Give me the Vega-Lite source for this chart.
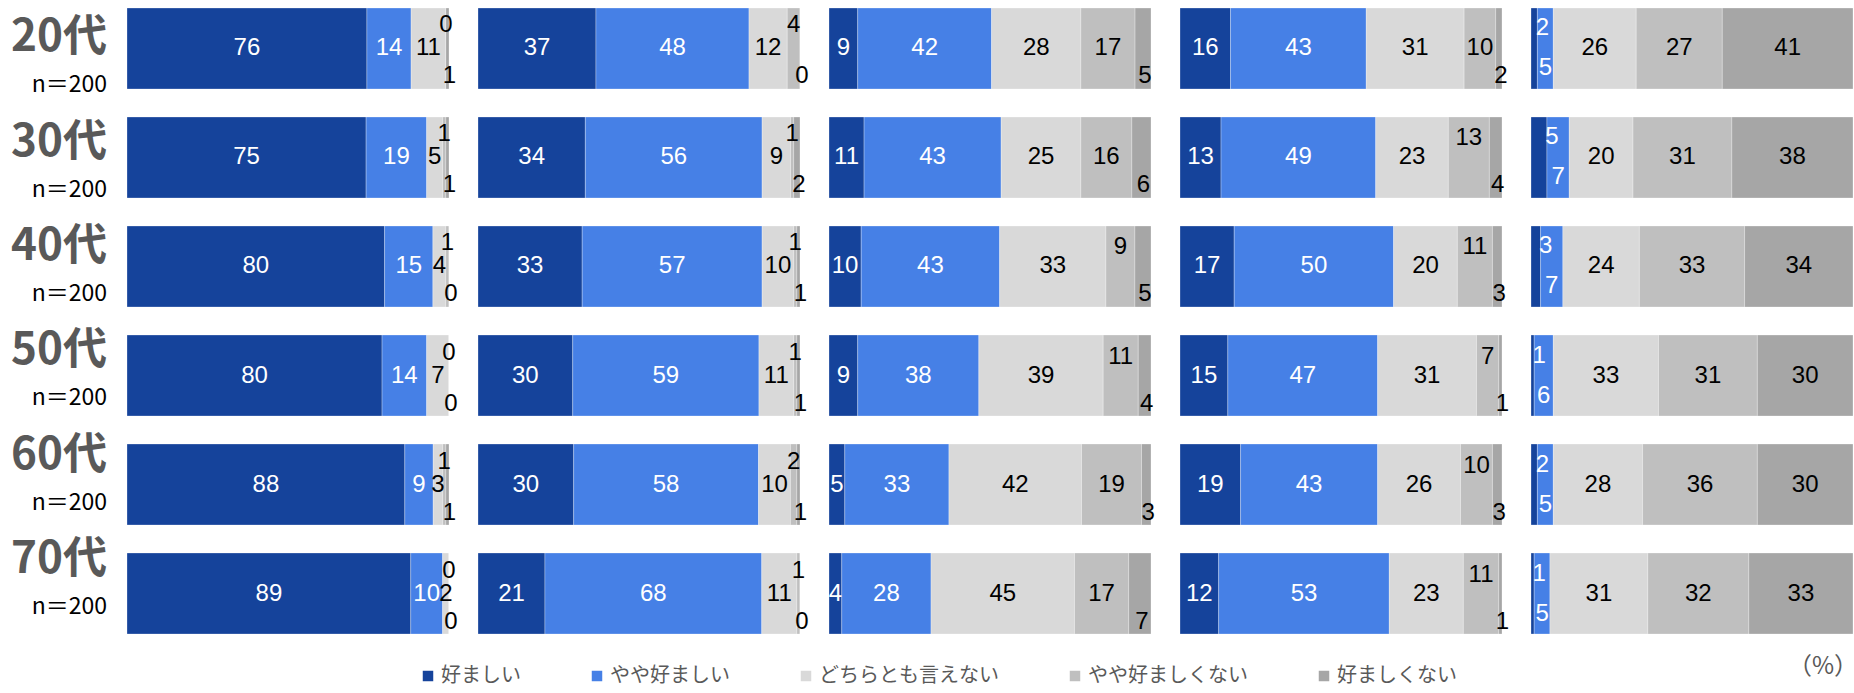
{
  "$schema": "https://vega.github.io/schema/vega-lite/v6.json",
  "padding": {"left": 0, "top": 7, "right": 0, "bottom": 12},
  "background": "white",
  "datasets": {
    "rows": [
      {"age": "20代", "n": "n＝200"},
      {"age": "30代", "n": "n＝200"},
      {"age": "40代", "n": "n＝200"},
      {"age": "50代", "n": "n＝200"},
      {"age": "60代", "n": "n＝200"},
      {"age": "70代", "n": "n＝200"}
    ],
    "main": [
      {"q": "Q1", "age": "20代", "k": 1, "cat": "好ましい", "value": 76},
      {"q": "Q1", "age": "20代", "k": 2, "cat": "やや好ましい", "value": 14},
      {"q": "Q1", "age": "20代", "k": 3, "cat": "どちらとも言えない", "value": 11},
      {"q": "Q1", "age": "20代", "k": 4, "cat": "やや好ましくない", "value": 0},
      {"q": "Q1", "age": "20代", "k": 5, "cat": "好ましくない", "value": 1},
      {"q": "Q1", "age": "30代", "k": 1, "cat": "好ましい", "value": 75},
      {"q": "Q1", "age": "30代", "k": 2, "cat": "やや好ましい", "value": 19},
      {"q": "Q1", "age": "30代", "k": 3, "cat": "どちらとも言えない", "value": 5},
      {"q": "Q1", "age": "30代", "k": 4, "cat": "やや好ましくない", "value": 1},
      {"q": "Q1", "age": "30代", "k": 5, "cat": "好ましくない", "value": 1},
      {"q": "Q1", "age": "40代", "k": 1, "cat": "好ましい", "value": 80},
      {"q": "Q1", "age": "40代", "k": 2, "cat": "やや好ましい", "value": 15},
      {"q": "Q1", "age": "40代", "k": 3, "cat": "どちらとも言えない", "value": 4},
      {"q": "Q1", "age": "40代", "k": 4, "cat": "やや好ましくない", "value": 1},
      {"q": "Q1", "age": "40代", "k": 5, "cat": "好ましくない", "value": 0},
      {"q": "Q1", "age": "50代", "k": 1, "cat": "好ましい", "value": 80},
      {"q": "Q1", "age": "50代", "k": 2, "cat": "やや好ましい", "value": 14},
      {"q": "Q1", "age": "50代", "k": 3, "cat": "どちらとも言えない", "value": 7},
      {"q": "Q1", "age": "50代", "k": 4, "cat": "やや好ましくない", "value": 0},
      {"q": "Q1", "age": "50代", "k": 5, "cat": "好ましくない", "value": 0},
      {"q": "Q1", "age": "60代", "k": 1, "cat": "好ましい", "value": 88},
      {"q": "Q1", "age": "60代", "k": 2, "cat": "やや好ましい", "value": 9},
      {"q": "Q1", "age": "60代", "k": 3, "cat": "どちらとも言えない", "value": 3},
      {"q": "Q1", "age": "60代", "k": 4, "cat": "やや好ましくない", "value": 1},
      {"q": "Q1", "age": "60代", "k": 5, "cat": "好ましくない", "value": 1},
      {"q": "Q1", "age": "70代", "k": 1, "cat": "好ましい", "value": 89},
      {"q": "Q1", "age": "70代", "k": 2, "cat": "やや好ましい", "value": 10},
      {"q": "Q1", "age": "70代", "k": 3, "cat": "どちらとも言えない", "value": 2},
      {"q": "Q1", "age": "70代", "k": 4, "cat": "やや好ましくない", "value": 0},
      {"q": "Q1", "age": "70代", "k": 5, "cat": "好ましくない", "value": 0},

      {"q": "Q2", "age": "20代", "k": 1, "cat": "好ましい", "value": 37},
      {"q": "Q2", "age": "20代", "k": 2, "cat": "やや好ましい", "value": 48},
      {"q": "Q2", "age": "20代", "k": 3, "cat": "どちらとも言えない", "value": 12},
      {"q": "Q2", "age": "20代", "k": 4, "cat": "やや好ましくない", "value": 4},
      {"q": "Q2", "age": "20代", "k": 5, "cat": "好ましくない", "value": 0},
      {"q": "Q2", "age": "30代", "k": 1, "cat": "好ましい", "value": 34},
      {"q": "Q2", "age": "30代", "k": 2, "cat": "やや好ましい", "value": 56},
      {"q": "Q2", "age": "30代", "k": 3, "cat": "どちらとも言えない", "value": 9},
      {"q": "Q2", "age": "30代", "k": 4, "cat": "やや好ましくない", "value": 1},
      {"q": "Q2", "age": "30代", "k": 5, "cat": "好ましくない", "value": 2},
      {"q": "Q2", "age": "40代", "k": 1, "cat": "好ましい", "value": 33},
      {"q": "Q2", "age": "40代", "k": 2, "cat": "やや好ましい", "value": 57},
      {"q": "Q2", "age": "40代", "k": 3, "cat": "どちらとも言えない", "value": 10},
      {"q": "Q2", "age": "40代", "k": 4, "cat": "やや好ましくない", "value": 1},
      {"q": "Q2", "age": "40代", "k": 5, "cat": "好ましくない", "value": 1},
      {"q": "Q2", "age": "50代", "k": 1, "cat": "好ましい", "value": 30},
      {"q": "Q2", "age": "50代", "k": 2, "cat": "やや好ましい", "value": 59},
      {"q": "Q2", "age": "50代", "k": 3, "cat": "どちらとも言えない", "value": 11},
      {"q": "Q2", "age": "50代", "k": 4, "cat": "やや好ましくない", "value": 1},
      {"q": "Q2", "age": "50代", "k": 5, "cat": "好ましくない", "value": 1},
      {"q": "Q2", "age": "60代", "k": 1, "cat": "好ましい", "value": 30},
      {"q": "Q2", "age": "60代", "k": 2, "cat": "やや好ましい", "value": 58},
      {"q": "Q2", "age": "60代", "k": 3, "cat": "どちらとも言えない", "value": 10},
      {"q": "Q2", "age": "60代", "k": 4, "cat": "やや好ましくない", "value": 2},
      {"q": "Q2", "age": "60代", "k": 5, "cat": "好ましくない", "value": 1},
      {"q": "Q2", "age": "70代", "k": 1, "cat": "好ましい", "value": 21},
      {"q": "Q2", "age": "70代", "k": 2, "cat": "やや好ましい", "value": 68},
      {"q": "Q2", "age": "70代", "k": 3, "cat": "どちらとも言えない", "value": 11},
      {"q": "Q2", "age": "70代", "k": 4, "cat": "やや好ましくない", "value": 1},
      {"q": "Q2", "age": "70代", "k": 5, "cat": "好ましくない", "value": 0},

      {"q": "Q3", "age": "20代", "k": 1, "cat": "好ましい", "value": 9},
      {"q": "Q3", "age": "20代", "k": 2, "cat": "やや好ましい", "value": 42},
      {"q": "Q3", "age": "20代", "k": 3, "cat": "どちらとも言えない", "value": 28},
      {"q": "Q3", "age": "20代", "k": 4, "cat": "やや好ましくない", "value": 17},
      {"q": "Q3", "age": "20代", "k": 5, "cat": "好ましくない", "value": 5},
      {"q": "Q3", "age": "30代", "k": 1, "cat": "好ましい", "value": 11},
      {"q": "Q3", "age": "30代", "k": 2, "cat": "やや好ましい", "value": 43},
      {"q": "Q3", "age": "30代", "k": 3, "cat": "どちらとも言えない", "value": 25},
      {"q": "Q3", "age": "30代", "k": 4, "cat": "やや好ましくない", "value": 16},
      {"q": "Q3", "age": "30代", "k": 5, "cat": "好ましくない", "value": 6},
      {"q": "Q3", "age": "40代", "k": 1, "cat": "好ましい", "value": 10},
      {"q": "Q3", "age": "40代", "k": 2, "cat": "やや好ましい", "value": 43},
      {"q": "Q3", "age": "40代", "k": 3, "cat": "どちらとも言えない", "value": 33},
      {"q": "Q3", "age": "40代", "k": 4, "cat": "やや好ましくない", "value": 9},
      {"q": "Q3", "age": "40代", "k": 5, "cat": "好ましくない", "value": 5},
      {"q": "Q3", "age": "50代", "k": 1, "cat": "好ましい", "value": 9},
      {"q": "Q3", "age": "50代", "k": 2, "cat": "やや好ましい", "value": 38},
      {"q": "Q3", "age": "50代", "k": 3, "cat": "どちらとも言えない", "value": 39},
      {"q": "Q3", "age": "50代", "k": 4, "cat": "やや好ましくない", "value": 11},
      {"q": "Q3", "age": "50代", "k": 5, "cat": "好ましくない", "value": 4},
      {"q": "Q3", "age": "60代", "k": 1, "cat": "好ましい", "value": 5},
      {"q": "Q3", "age": "60代", "k": 2, "cat": "やや好ましい", "value": 33},
      {"q": "Q3", "age": "60代", "k": 3, "cat": "どちらとも言えない", "value": 42},
      {"q": "Q3", "age": "60代", "k": 4, "cat": "やや好ましくない", "value": 19},
      {"q": "Q3", "age": "60代", "k": 5, "cat": "好ましくない", "value": 3},
      {"q": "Q3", "age": "70代", "k": 1, "cat": "好ましい", "value": 4},
      {"q": "Q3", "age": "70代", "k": 2, "cat": "やや好ましい", "value": 28},
      {"q": "Q3", "age": "70代", "k": 3, "cat": "どちらとも言えない", "value": 45},
      {"q": "Q3", "age": "70代", "k": 4, "cat": "やや好ましくない", "value": 17},
      {"q": "Q3", "age": "70代", "k": 5, "cat": "好ましくない", "value": 7},

      {"q": "Q4", "age": "20代", "k": 1, "cat": "好ましい", "value": 16},
      {"q": "Q4", "age": "20代", "k": 2, "cat": "やや好ましい", "value": 43},
      {"q": "Q4", "age": "20代", "k": 3, "cat": "どちらとも言えない", "value": 31},
      {"q": "Q4", "age": "20代", "k": 4, "cat": "やや好ましくない", "value": 10},
      {"q": "Q4", "age": "20代", "k": 5, "cat": "好ましくない", "value": 2},
      {"q": "Q4", "age": "30代", "k": 1, "cat": "好ましい", "value": 13},
      {"q": "Q4", "age": "30代", "k": 2, "cat": "やや好ましい", "value": 49},
      {"q": "Q4", "age": "30代", "k": 3, "cat": "どちらとも言えない", "value": 23},
      {"q": "Q4", "age": "30代", "k": 4, "cat": "やや好ましくない", "value": 13},
      {"q": "Q4", "age": "30代", "k": 5, "cat": "好ましくない", "value": 4},
      {"q": "Q4", "age": "40代", "k": 1, "cat": "好ましい", "value": 17},
      {"q": "Q4", "age": "40代", "k": 2, "cat": "やや好ましい", "value": 50},
      {"q": "Q4", "age": "40代", "k": 3, "cat": "どちらとも言えない", "value": 20},
      {"q": "Q4", "age": "40代", "k": 4, "cat": "やや好ましくない", "value": 11},
      {"q": "Q4", "age": "40代", "k": 5, "cat": "好ましくない", "value": 3},
      {"q": "Q4", "age": "50代", "k": 1, "cat": "好ましい", "value": 15},
      {"q": "Q4", "age": "50代", "k": 2, "cat": "やや好ましい", "value": 47},
      {"q": "Q4", "age": "50代", "k": 3, "cat": "どちらとも言えない", "value": 31},
      {"q": "Q4", "age": "50代", "k": 4, "cat": "やや好ましくない", "value": 7},
      {"q": "Q4", "age": "50代", "k": 5, "cat": "好ましくない", "value": 1},
      {"q": "Q4", "age": "60代", "k": 1, "cat": "好ましい", "value": 19},
      {"q": "Q4", "age": "60代", "k": 2, "cat": "やや好ましい", "value": 43},
      {"q": "Q4", "age": "60代", "k": 3, "cat": "どちらとも言えない", "value": 26},
      {"q": "Q4", "age": "60代", "k": 4, "cat": "やや好ましくない", "value": 10},
      {"q": "Q4", "age": "60代", "k": 5, "cat": "好ましくない", "value": 3},
      {"q": "Q4", "age": "70代", "k": 1, "cat": "好ましい", "value": 12},
      {"q": "Q4", "age": "70代", "k": 2, "cat": "やや好ましい", "value": 53},
      {"q": "Q4", "age": "70代", "k": 3, "cat": "どちらとも言えない", "value": 23},
      {"q": "Q4", "age": "70代", "k": 4, "cat": "やや好ましくない", "value": 11},
      {"q": "Q4", "age": "70代", "k": 5, "cat": "好ましくない", "value": 1},

      {"q": "Q5", "age": "20代", "k": 1, "cat": "好ましい", "value": 2},
      {"q": "Q5", "age": "20代", "k": 2, "cat": "やや好ましい", "value": 5},
      {"q": "Q5", "age": "20代", "k": 3, "cat": "どちらとも言えない", "value": 26},
      {"q": "Q5", "age": "20代", "k": 4, "cat": "やや好ましくない", "value": 27},
      {"q": "Q5", "age": "20代", "k": 5, "cat": "好ましくない", "value": 41},
      {"q": "Q5", "age": "30代", "k": 1, "cat": "好ましい", "value": 5},
      {"q": "Q5", "age": "30代", "k": 2, "cat": "やや好ましい", "value": 7},
      {"q": "Q5", "age": "30代", "k": 3, "cat": "どちらとも言えない", "value": 20},
      {"q": "Q5", "age": "30代", "k": 4, "cat": "やや好ましくない", "value": 31},
      {"q": "Q5", "age": "30代", "k": 5, "cat": "好ましくない", "value": 38},
      {"q": "Q5", "age": "40代", "k": 1, "cat": "好ましい", "value": 3},
      {"q": "Q5", "age": "40代", "k": 2, "cat": "やや好ましい", "value": 7},
      {"q": "Q5", "age": "40代", "k": 3, "cat": "どちらとも言えない", "value": 24},
      {"q": "Q5", "age": "40代", "k": 4, "cat": "やや好ましくない", "value": 33},
      {"q": "Q5", "age": "40代", "k": 5, "cat": "好ましくない", "value": 34},
      {"q": "Q5", "age": "50代", "k": 1, "cat": "好ましい", "value": 1},
      {"q": "Q5", "age": "50代", "k": 2, "cat": "やや好ましい", "value": 6},
      {"q": "Q5", "age": "50代", "k": 3, "cat": "どちらとも言えない", "value": 33},
      {"q": "Q5", "age": "50代", "k": 4, "cat": "やや好ましくない", "value": 31},
      {"q": "Q5", "age": "50代", "k": 5, "cat": "好ましくない", "value": 30},
      {"q": "Q5", "age": "60代", "k": 1, "cat": "好ましい", "value": 2},
      {"q": "Q5", "age": "60代", "k": 2, "cat": "やや好ましい", "value": 5},
      {"q": "Q5", "age": "60代", "k": 3, "cat": "どちらとも言えない", "value": 28},
      {"q": "Q5", "age": "60代", "k": 4, "cat": "やや好ましくない", "value": 36},
      {"q": "Q5", "age": "60代", "k": 5, "cat": "好ましくない", "value": 30},
      {"q": "Q5", "age": "70代", "k": 1, "cat": "好ましい", "value": 1},
      {"q": "Q5", "age": "70代", "k": 2, "cat": "やや好ましい", "value": 5},
      {"q": "Q5", "age": "70代", "k": 3, "cat": "どちらとも言えない", "value": 31},
      {"q": "Q5", "age": "70代", "k": 4, "cat": "やや好ましくない", "value": 32},
      {"q": "Q5", "age": "70代", "k": 5, "cat": "好ましくない", "value": 33}
    ]
  },
  "title": {
    "text": "（%）",
    "orient": "bottom",
    "anchor": "end",
    "offset": -31,
    "fontSize": 24,
    "font": "Noto Sans CJK JP",
    "fontWeight": "normal",
    "color": "#595959"
  },
  "spacing": 20,
  "bounds": "flush",
  "hconcat": [
    {
      "data": {"name": "rows"},
      "width": 107,
      "height": 626,
      "encoding": {
        "y": {
          "field": "age", "type": "nominal", "axis": null,
          "sort": ["20代", "30代", "40代", "50代", "60代", "70代"],
          "scale": {"paddingInner": 0.257, "paddingOuter": 0}
        }
      },
      "layer": [
        {
          "mark": {"type": "text", "align": "right", "baseline": "middle", "dy": -22, "font": "Noto Sans CJK JP", "fontSize": 44, "fontWeight": "bold", "color": "#595959"},
          "encoding": {"x": {"value": "width"}, "text": {"field": "age"}}
        },
        {
          "mark": {"type": "text", "align": "right", "baseline": "middle", "dy": 25, "font": "Noto Sans CJK JP", "fontSize": 23, "color": "#000000"},
          "encoding": {"x": {"value": "width"}, "text": {"field": "n"}}
        }
      ]
    },
    {
      "data": {"name": "main"},
      "facet": {"column": {"field": "q", "type": "nominal", "header": null}},
      "spacing": 29,
      "bounds": "flush",
      "spec": {
        "width": 322,
        "height": 626,
        "encoding": {
          "y": {
            "field": "age", "type": "nominal", "axis": null,
            "sort": ["20代", "30代", "40代", "50代", "60代", "70代"],
            "scale": {"paddingInner": 0.257, "paddingOuter": 0}
          },
          "x": {"field": "value", "type": "quantitative", "stack": "normalize", "axis": null},
          "detail": {"field": "cat"},
          "order": {"field": "k", "type": "quantitative"}
        },
        "layer": [
          {
            "mark": {"type": "bar", "stroke": "#ffffff", "strokeWidth": 0.8, "strokeOpacity": 0.35},
            "encoding": {
              "color": {
                "field": "cat", "type": "nominal",
                "scale": {
                  "domain": ["好ましい", "やや好ましい", "どちらとも言えない", "やや好ましくない", "好ましくない"],
                  "range": ["#15439B", "#4680E6", "#D9D9D9", "#BFBFBF", "#A6A6A6"]
                },
                "legend": {
                  "orient": "none", "legendX": 418, "legendY": 658,
                  "direction": "horizontal", "title": null,
                  "symbolType": "square", "symbolSize": 110, "symbolStrokeWidth": 0,
                  "labelFont": "Noto Sans CJK JP", "labelFontSize": 20, "labelColor": "#595959",
                  "labelLimit": 400, "labelOffset": 3, "columnPadding": 66
                }
              }
            }
          },
          {
            "mark": {"type": "text", "baseline": "middle", "font": "Liberation Sans", "fontSize": 24},
            "encoding": {
              "x": {"field": "value", "type": "quantitative", "stack": "normalize", "bandPosition": 0.5},
              "text": {
                "condition": {
                  "test": "!(((datum.q=='Q1'||datum.q=='Q2')&&(datum.k==4||datum.k==5)) || (datum.q=='Q5'&&(datum.k==1||datum.k==2)) || ((datum.q=='Q3'||datum.q=='Q4')&&datum.k==5) || ((datum.q=='Q3'||datum.q=='Q4')&&datum.k==4&&datum.value<16&&!(datum.q=='Q4'&&datum.age=='20代')))",
                  "field": "value", "type": "quantitative"
                },
                "value": ""
              },
              "color": {"condition": {"test": "datum.k<=2", "value": "#ffffff"}, "value": "#000000"}
            }
          },
          {
            "mark": {"type": "text", "baseline": "middle", "font": "Liberation Sans", "fontSize": 24, "dy": -23, "color": "#000000"},
            "encoding": {
              "x": {"field": "value", "type": "quantitative", "stack": "normalize", "bandPosition": 0.5},
              "text": {"condition": {"test": "(datum.q=='Q1'||datum.q=='Q2')&&datum.k==4", "field": "value", "type": "quantitative"}, "value": ""}
            }
          },
          {
            "mark": {"type": "text", "baseline": "middle", "font": "Liberation Sans", "fontSize": 24, "dy": 28, "dx": 2, "color": "#000000"},
            "encoding": {
              "x": {"field": "value", "type": "quantitative", "stack": "normalize", "bandPosition": 0.5},
              "text": {"condition": {"test": "datum.q!='Q5'&&datum.k==5", "field": "value", "type": "quantitative"}, "value": ""}
            }
          },
          {
            "mark": {"type": "text", "baseline": "middle", "font": "Liberation Sans", "fontSize": 24, "dy": -19, "color": "#000000"},
            "encoding": {
              "x": {"field": "value", "type": "quantitative", "stack": "normalize", "bandPosition": 0.5},
              "text": {"condition": {"test": "(datum.q=='Q3'||datum.q=='Q4')&&datum.k==4&&datum.value<16&&!(datum.q=='Q4'&&datum.age=='20代')", "field": "value", "type": "quantitative"}, "value": ""}
            }
          },
          {
            "mark": {"type": "text", "baseline": "middle", "font": "Liberation Sans", "fontSize": 24, "dy": -20, "dx": 5, "color": "#ffffff"},
            "encoding": {
              "x": {"field": "value", "type": "quantitative", "stack": "normalize", "bandPosition": 1},
              "text": {"condition": {"test": "datum.q=='Q5'&&datum.k==1", "field": "value", "type": "quantitative"}, "value": ""}
            }
          },
          {
            "mark": {"type": "text", "baseline": "middle", "font": "Liberation Sans", "fontSize": 24, "dy": 20, "color": "#ffffff"},
            "encoding": {
              "x": {"field": "value", "type": "quantitative", "stack": "normalize", "bandPosition": 0.5},
              "text": {"condition": {"test": "datum.q=='Q5'&&datum.k==2", "field": "value", "type": "quantitative"}, "value": ""}
            }
          }
        ]
      }
    }
  ],
  "config": {"view": {"stroke": null}}
}
